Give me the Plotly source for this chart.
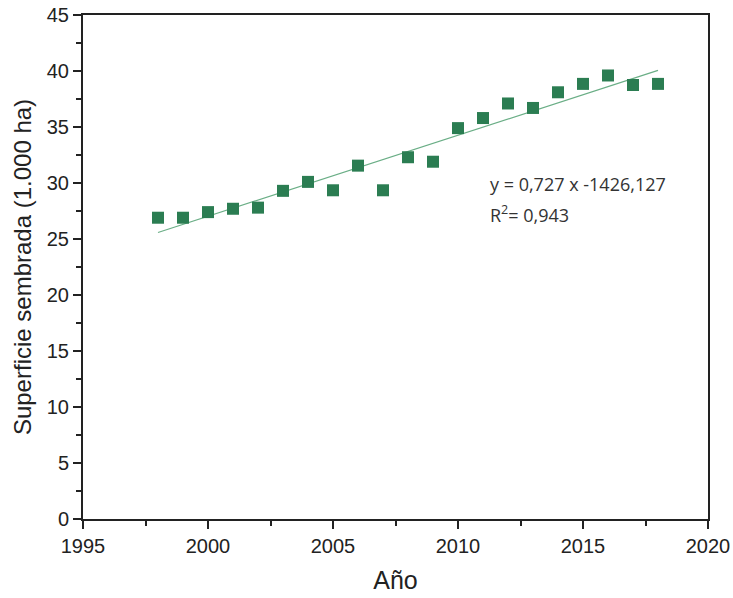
import numpy as np
import plotly.graph_objects as go

# Superficie sembrada por año (miles de ha)
years = [1998, 1999, 2000, 2001, 2002, 2003, 2004, 2005, 2006, 2007, 2008,
         2009, 2010, 2011, 2012, 2013, 2014, 2015, 2016, 2017, 2018]
area = [26.9, 26.9, 27.4, 27.7, 27.8, 29.3, 30.1, 29.35, 31.55, 29.35, 32.3,
        31.9, 34.9, 35.8, 37.1, 36.7, 38.1, 38.85, 39.6, 38.75, 38.85]

eq_text = "y = 0,727 x -1426,127"
r2_text = "R<sup>2</sup>= 0,943"

x_ticks = [1995, 2000, 2005, 2010, 2015, 2020]
y_ticks = [0, 5, 10, 15, 20, 25, 30, 35, 40, 45]

# Linear least-squares trend over the observed years
slope, intercept = np.polyfit(years, area, 1)
trend_x = [years[0], years[-1]]
trend_y = [slope * xv + intercept for xv in trend_x]

fig = go.Figure()
fig.add_trace(go.Scatter(
    x=trend_x, y=trend_y, mode="lines",
    line=dict(color="#6aae86", width=1.2),
    showlegend=False, hoverinfo="skip",
))
fig.add_trace(go.Scatter(
    x=years, y=area, mode="markers",
    marker=dict(symbol="square", size=12, color="#2b7d52"),
    showlegend=False,
))

note_font = dict(family="Open Sans, Liberation Sans, sans-serif", size=18, color="#333333")
fig.add_annotation(x=2011.2, y=29.9, xref="x", yref="y", text=eq_text,
                   showarrow=False, xanchor="left", yanchor="middle", font=note_font)
fig.add_annotation(x=2011.2, y=27.2, xref="x", yref="y", text=r2_text,
                   showarrow=False, xanchor="left", yanchor="middle", font=note_font)

axis_font = dict(family="Liberation Sans, Arial, sans-serif", size=20, color="#222222")

fig.update_xaxes(
    range=[1995, 2020], tickvals=x_ticks, ticktext=[str(v) for v in x_ticks],
    showgrid=False, zeroline=False, automargin=False,
    showline=True, linecolor="#222222", linewidth=2, mirror=True,
    ticks="outside", ticklen=8, tickwidth=2, tickcolor="#222222",
    minor=dict(dtick=2.5, tick0=1995, ticks="outside", ticklen=5,
               tickwidth=2, tickcolor="#222222"),
    tickfont=axis_font,
    title=dict(text="Año", font=dict(family="Liberation Sans, Arial, sans-serif",
                                      size=25, color="#222222"), standoff=15),
)
fig.update_yaxes(
    range=[0, 45], tickvals=y_ticks, ticktext=[str(v) for v in y_ticks],
    showgrid=False, zeroline=False, automargin=False,
    showline=True, linecolor="#222222", linewidth=2, mirror=True,
    ticks="outside", ticklen=8, tickwidth=2, tickcolor="#222222",
    minor=dict(dtick=2.5, tick0=0, ticks="outside", ticklen=5,
               tickwidth=2, tickcolor="#222222"),
    tickfont=axis_font,
    title=dict(text="Superficie sembrada (1.000 ha)",
               font=dict(family="Liberation Sans, Arial, sans-serif",
                         size=24, color="#222222"), standoff=8),
)

fig.update_layout(
    width=733, height=598,
    margin=dict(l=83, r=25, t=15, b=79),
    paper_bgcolor="white", plot_bgcolor="white",
    showlegend=False,
)

fig.write_html("out.html")
